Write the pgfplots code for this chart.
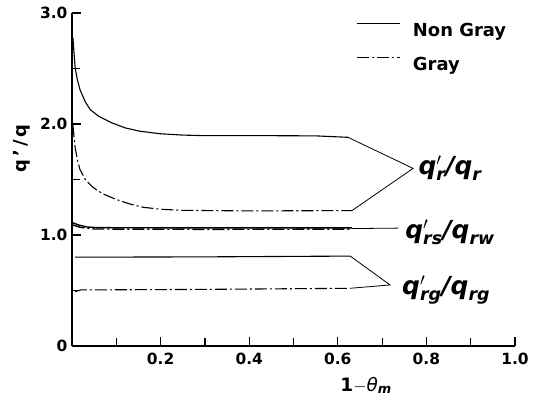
\documentclass[border=0pt]{standalone}
\usepackage{fontspec}
\setmainfont{DejaVu Sans}
\usepackage{amsmath}
\usepackage{pgfplots}
\pgfplotsset{compat=1.18}
\newcommand{\bi}[1]{\text{\bfseries\itshape #1}}
\tikzset{dd/.style={dash pattern=on 12bp off 3bp on 2bp off 3bp},
  crv/.style={black, line width=1.1bp}}
\begin{document}
\begin{tikzpicture}
\path[use as bounding box] (0,0) rectangle (538bp,399bp);
\begin{axis}[
 at={(72bp,53bp)}, anchor=south west,
 scale only axis, width=443bp, height=333bp,
 xmin=0, xmax=1, ymin=0, ymax=3,
 axis lines*=left,
 axis line style={line width=1.6bp},
 clip=false,
 tick align=inside,
 xtick={0.2,0.4,0.6,0.8,1.0},
 xticklabels={0.2,0.4,0.6,0.8,1.0},
 minor xtick={0.1,0.3,0.5,0.7,0.9},
 ytick={0,1,2,3},
 yticklabels={0,1.0,2.0,3.0},
 minor ytick={0.5,1.5,2.5},
 major tick length=9bp, minor tick length=8bp,
 every tick/.style={black, line width=1.2bp},
 tick label style={font=\fontsize{15.5}{18}\selectfont\bfseries},
 /pgf/number format/assume math mode=true,
 xticklabel style={yshift=-4bp},
 yticklabel style={xshift=-1bp},
 legend style={at={(axis cs:0.643,2.91)}, anchor=north west, draw=none, fill=none,
   inner sep=0pt, outer sep=0pt, font=\fontsize{18}{20}\selectfont\bfseries,
   row sep=20bp, nodes={inner sep=0pt, text height=13bp, text depth=0bp}},
 legend cell align=left,
 legend image code/.code={\draw[#1] (0bp,6.5bp) -- (43bp,6.5bp); \path (55bp,0bp);},
]
% q'_r/q_r non gray
\addplot[crv] coordinates {(0.002,2.78) (0.007,2.51) (0.012,2.40) (0.018,2.31) (0.030,2.20) (0.041,2.13) (0.060,2.07) (0.090,2.01) (0.120,1.965) (0.153,1.935) (0.200,1.912) (0.250,1.900) (0.300,1.895) (0.440,1.895) (0.550,1.893) (0.623,1.88)};
% q'_r/q_r gray
\addplot[crv, dd] coordinates {(0.002,1.99) (0.007,1.79) (0.012,1.68) (0.018,1.59) (0.030,1.50) (0.047,1.43) (0.070,1.37) (0.100,1.32) (0.130,1.28) (0.160,1.25) (0.200,1.232) (0.250,1.222) (0.400,1.217) (0.632,1.22)};
\legend{Non Gray, Gray}
% q'_rs/q_rw
\addplot[crv, line width=1.4bp, forget plot] coordinates {(0.002,1.11) (0.015,1.09) (0.034,1.072) (0.060,1.066) (0.300,1.064) (0.632,1.064)};
\addplot[crv, line width=1.4bp, dd, forget plot] coordinates {(0.002,1.09) (0.020,1.068) (0.050,1.054) (0.300,1.051) (0.632,1.053)};
% q'_rg/q_rg
\addplot[crv, forget plot] coordinates {(0.007,0.800) (0.300,0.803) (0.628,0.810)};
\addplot[crv, dd, forget plot] coordinates {(0.007,0.490) (0.020,0.505) (0.300,0.510) (0.628,0.520)};
% leader lines
\addplot[black, line width=0.8bp, forget plot] coordinates {(0.623,1.88) (0.770,1.60) (0.632,1.22)};
\addplot[black, line width=0.8bp, forget plot] coordinates {(0.632,1.058) (0.736,1.062)};
\addplot[black, line width=0.8bp, forget plot] coordinates {(0.628,0.81) (0.718,0.55) (0.628,0.52)};
% labels
\node[anchor=west, inner sep=0pt, font=\fontsize{25}{28}\selectfont\bfseries\itshape] at (axis cs:0.782,1.60) {$\bi{q}'_{\bi{r}}\bi{/}\bi{q}_{\bi{r}}$};
\node[anchor=west, inner sep=0pt, font=\fontsize{25}{28}\selectfont\bfseries\itshape] at (axis cs:0.752,1.02) {$\bi{q}'_{\bi{rs}}\bi{/}\bi{q}_{\bi{rw}}$};
\node[anchor=west, inner sep=0pt, font=\fontsize{25}{28}\selectfont\bfseries\itshape] at (axis cs:0.745,0.50) {$\bi{q}'_{\bi{rg}}\bi{/}\bi{q}_{\bi{rg}}$};
\node[rotate=90, inner sep=0pt, font=\fontsize{18}{20}\selectfont\bfseries] at (axis cs:-0.113,1.78) {q\,'\,/\,q};
\node[inner sep=0pt, font=\fontsize{18.5}{20}\selectfont\bfseries] at (axis cs:0.664,-0.355) {1$-${\mdseries\itshape θ}$_{\bi{m}}$};
\end{axis}
\end{tikzpicture}
\end{document}
